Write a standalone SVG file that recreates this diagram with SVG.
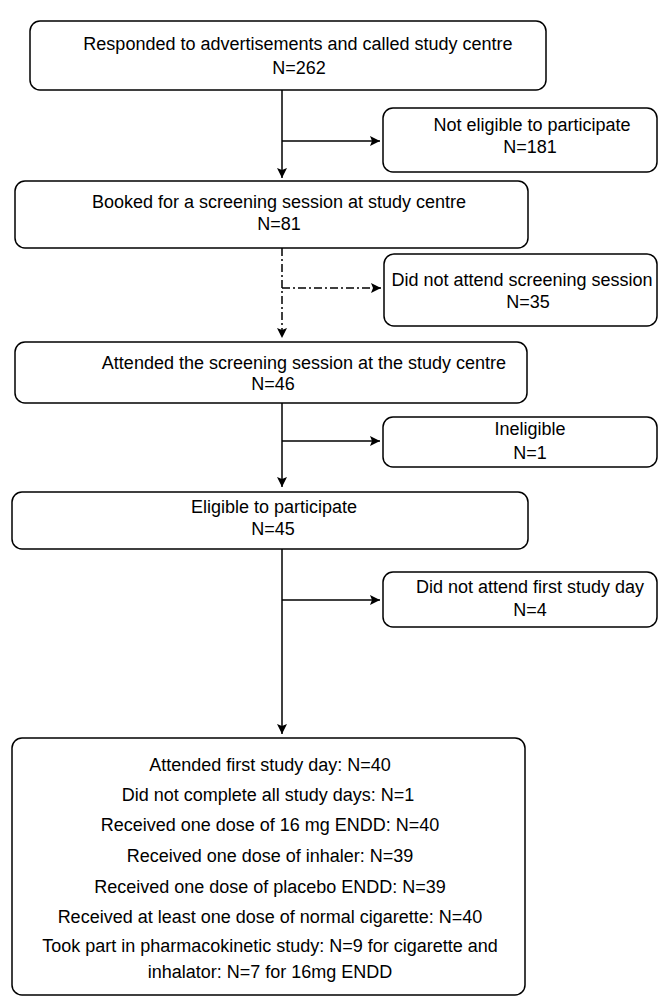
<svg xmlns="http://www.w3.org/2000/svg" width="658" height="998" viewBox="0 0 658 998">
<style>
.box{fill:#fff;stroke:#000;stroke-width:1.5}
.t{font-family:"Liberation Sans",Arial,sans-serif;font-size:18px;fill:#000;text-anchor:middle}
.c{fill:none;stroke:#000;stroke-width:1.5}
.dd{stroke-dasharray:8 3 2 3}
</style>
<defs>
<marker id="ah" markerUnits="userSpaceOnUse" markerWidth="10" markerHeight="10" viewBox="0 0 10 10" refX="10" refY="5" orient="auto">
<path d="M0,0 L10,5 L0,10 L2,5 z" fill="#000"/>
</marker>
</defs>
<rect width="658" height="998" fill="#fff"/>
<g id="connectors">
<line class="c" x1="282" y1="90" x2="282" y2="178" marker-end="url(#ah)"/>
<line class="c" x1="282" y1="141" x2="380" y2="141" marker-end="url(#ah)"/>
<line class="c dd" x1="282" y1="248" x2="282" y2="338" marker-end="url(#ah)"/>
<line class="c dd" x1="282" y1="288" x2="381" y2="288" marker-end="url(#ah)"/>
<line class="c" x1="282" y1="403" x2="282" y2="487" marker-end="url(#ah)"/>
<line class="c" x1="282" y1="441" x2="380" y2="441" marker-end="url(#ah)"/>
<line class="c" x1="282" y1="549" x2="282" y2="734" marker-end="url(#ah)"/>
<line class="c" x1="282" y1="600" x2="380" y2="600" marker-end="url(#ah)"/>
</g>
<g id="n1">
<rect class="box" x="30" y="21" width="516" height="69" rx="10"/>
<text class="t" x="298" y="50">Responded to advertisements and called study centre</text>
<text class="t" x="299" y="74">N=262</text>
</g>
<g id="n2">
<rect class="box" x="383" y="108" width="274" height="64" rx="10"/>
<text class="t" x="532" y="131">Not eligible to participate</text>
<text class="t" x="530" y="153">N=181</text>
</g>
<g id="n3">
<rect class="box" x="15" y="181" width="513" height="67" rx="10"/>
<text class="t" x="279" y="208">Booked for a screening session at study centre</text>
<text class="t" x="279" y="230">N=81</text>
</g>
<g id="n4">
<rect class="box" x="384" y="254" width="273" height="72" rx="10"/>
<text class="t" x="522" y="286">Did not attend screening session</text>
<text class="t" x="528" y="308">N=35</text>
</g>
<g id="n5">
<rect class="box" x="15" y="342" width="512" height="61" rx="10"/>
<text class="t" x="304" y="369">Attended the screening session at the study centre</text>
<text class="t" x="273" y="390">N=46</text>
</g>
<g id="n6">
<rect class="box" x="383" y="417" width="274" height="50" rx="10"/>
<text class="t" x="530" y="435">Ineligible</text>
<text class="t" x="530" y="459">N=1</text>
</g>
<g id="n7">
<rect class="box" x="12" y="492" width="516" height="57" rx="10"/>
<text class="t" x="274" y="513">Eligible to participate</text>
<text class="t" x="273" y="535">N=45</text>
</g>
<g id="n8">
<rect class="box" x="383" y="572" width="274" height="55" rx="10"/>
<text class="t" x="530" y="593">Did not attend first study day</text>
<text class="t" x="530" y="616">N=4</text>
</g>
<g id="n9">
<rect class="box" x="12" y="738" width="513" height="257" rx="10"/>
<text class="t" x="270" y="771">Attended first study day: N=40</text>
<text class="t" x="268" y="801">Did not complete all study days: N=1</text>
<text class="t" x="270" y="831">Received one dose of 16 mg ENDD: N=40</text>
<text class="t" x="270" y="862">Received one dose of inhaler: N=39</text>
<text class="t" x="270" y="893">Received one dose of placebo ENDD: N=39</text>
<text class="t" x="270" y="923">Received at least one dose of normal cigarette: N=40</text>
<text class="t" x="270" y="952">Took part in pharmacokinetic study: N=9 for cigarette and</text>
<text class="t" x="270" y="978">inhalator: N=7 for 16mg ENDD</text>
</g>
</svg>
